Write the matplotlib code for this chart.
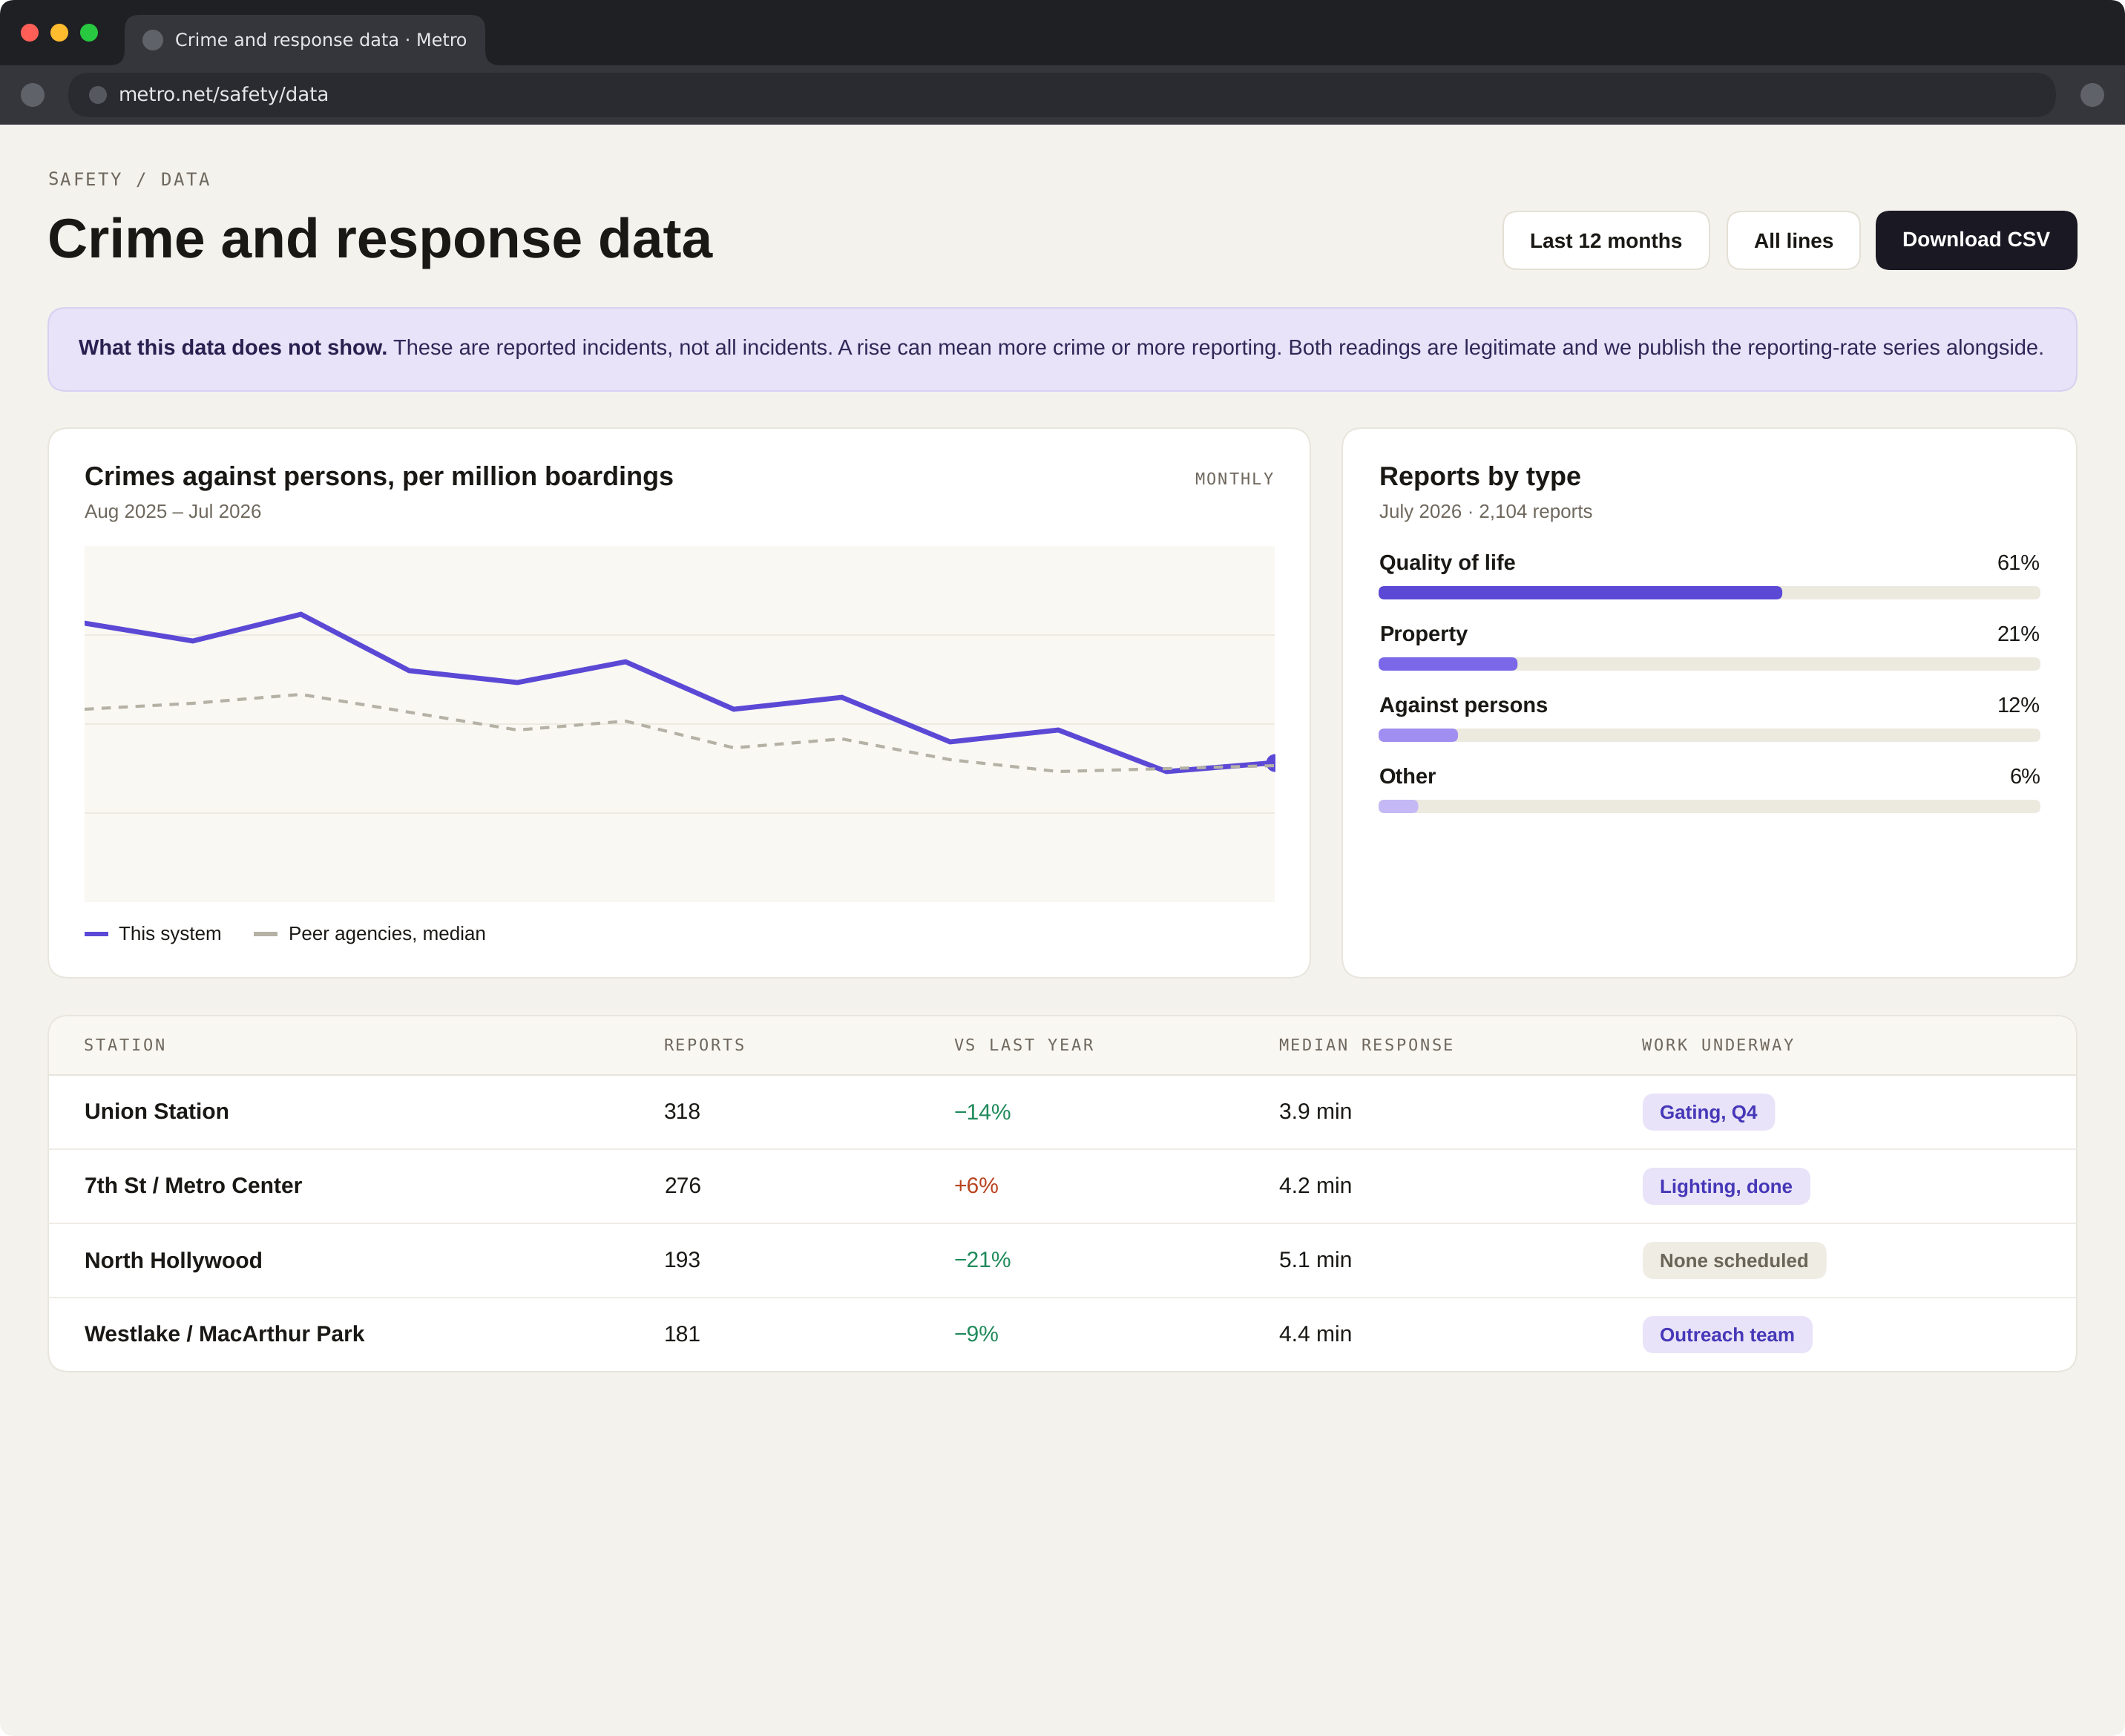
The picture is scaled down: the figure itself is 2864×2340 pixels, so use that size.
import matplotlib
matplotlib.use("Agg")
import matplotlib.pyplot as plt
from matplotlib.patches import FancyBboxPatch, Circle, Rectangle, PathPatch
from matplotlib.path import Path
from matplotlib.text import Text

plt.rcParams["text.hinting"] = "no_hinting"
plt.rcParams["text.hinting_factor"] = 1

# page is laid out in device pixels, y going down
W, H = 2864, 2340
SANS = "Liberation Sans"
MONO = "DejaVu Sans Mono"
UI = "DejaVu Sans"

months = ["Aug", "Sep", "Oct", "Nov", "Dec", "Jan", "Feb", "Mar", "Apr", "May", "Jun", "Jul"]
this_system = [188, 176, 194, 156, 148, 162, 130, 138, 108, 116, 88, 94]
peer_median = [130, 134, 140, 128, 116, 122, 104, 110, 96, 88, 90, 92]
grid_levels = [60, 120, 180]

report_types = ["Quality of life", "Property", "Against persons", "Other"]
report_shares = [61, 21, 12, 6]
report_colors = ["#5b49d6", "#7b68e8", "#a08ff0", "#c4b9f5"]

table_headers = ["STATION", "REPORTS", "VS LAST YEAR", "MEDIAN RESPONSE", "WORK UNDERWAY"]
stations = ["Union Station", "7th St / Metro Center", "North Hollywood", "Westlake / MacArthur Park"]
reports = [318, 276, 193, 181]
vs_last_year = ["\u221214%", "+6%", "\u221221%", "\u22129%"]
median_response = ["3.9 min", "4.2 min", "5.1 min", "4.4 min"]
work_underway = ["Gating, Q4", "Lighting, done", "None scheduled", "Outreach team"]

INK = "#1a1815"
MUTED = "#6f685e"
BORDER = "#e8e5dc"
PAGE = "#f3f2ed"
GREEN = "#1f8a5b"
RED = "#b8431f"
VIOLET_SOFT = "#e8e3f8"


class SpacedText(Text):
    """One string drawn with css-like letter spacing (mono labels only)."""

    def __init__(self, x, y, text, step, **kwargs):
        super().__init__(x, y, text, **kwargs)
        self.step = step

    def draw(self, renderer):
        if not self.get_visible():
            return
        px, py = self.get_transform().transform(self.get_position())
        py = renderer.height - py
        gc = renderer.new_gc()
        gc.set_foreground(self.get_color())
        gc.set_antialiased(True)
        for i, ch in enumerate(self.get_text()):
            if ch != " ":
                renderer.draw_text(gc, px + i * self.step, py, ch, self.get_fontproperties(), 0)
        gc.restore()
        self.stale = False


fig = plt.figure(figsize=(W / 100, H / 100), dpi=100, facecolor="#ffffff")
ax = fig.add_axes([0, 0, 1, 1])
ax.set_xlim(0, W)
ax.set_ylim(H, 0)
ax.axis("off")


def px(size):
    return size * 0.72


def box(x0, y0, x1, y1, r, fc, ec="none", lw=0, z=1):
    p = FancyBboxPatch((x0, y0), x1 - x0, y1 - y0, boxstyle=f"round,pad=0,rounding_size={r}",
                       fc=fc, ec=ec, lw=lw * 0.72, zorder=z)
    ax.add_patch(p)
    return p


def label(x, y, s, size, color=INK, weight="normal", family=SANS, ha="left", va="baseline", z=5):
    return ax.text(x, y, s, fontsize=px(size), color=color, fontweight=weight, family=family,
                   ha=ha, va=va, zorder=z)


def mono(x, y, s, color=MUTED, size=22, step=15.88, right=False):
    if right:
        x = x - len(s) * step
    t = SpacedText(x, y, s, step, fontsize=px(size), color=color, family=MONO, zorder=5)
    ax.add_artist(t)
    t.set_transform(ax.transData)
    return t


# window with rounded corners, browser chrome on top
window = box(0, 0, W, H, 20, PAGE, z=0.5)
for rect in [Rectangle((0, 0), W, 88, fc="#1f2024", ec="none", zorder=1),
             Rectangle((0, 88), W, 80, fc="#35363b", ec="none", zorder=1)]:
    ax.add_patch(rect)
    rect.set_clip_path(window)
for cx, col in zip([40, 80, 120], ["#ff5f57", "#febc2e", "#28c840"]):
    ax.add_patch(Circle((cx, 44), 12, fc=col, ec="none", zorder=2))
verts = [(148, 88), (168, 88), (168, 68), (168, 40), (168, 20), (188, 20), (634, 20), (654, 20),
         (654, 40), (654, 68), (654, 88), (674, 88), (148, 88)]
codes = [Path.MOVETO, Path.CURVE3, Path.CURVE3, Path.LINETO, Path.CURVE3, Path.CURVE3, Path.LINETO,
         Path.CURVE3, Path.CURVE3, Path.LINETO, Path.CURVE3, Path.CURVE3, Path.CLOSEPOLY]
ax.add_patch(PathPatch(Path(verts, codes), fc="#35363b", ec="none", zorder=2))
ax.add_patch(Circle((206, 54), 14, fc="#5f6268", ec="none", zorder=3))
label(236, 53, "Crime and response data \u00b7 Metro", 24, "#e6e7ea", family=UI, va="center_baseline")
ax.add_patch(Circle((44, 128), 16, fc="#5f6268", ec="none", zorder=3))
box(92, 98, 2771, 158, 30, "#2a2b30", z=2)
ax.add_patch(Circle((132, 128), 12, fc="#55585e", ec="none", zorder=3))
label(160, 127, "metro.net/safety/data", 26, "#e6e7ea", family=UI, va="center_baseline")
ax.add_patch(Circle((2820, 128), 16, fc="#5f6268", ec="none", zorder=3))

# heading
mono(64, 250, "SAFETY / DATA", size=24, step=16.95)
label(64, 346, "Crime and response data", 75, "#1a1815", "bold")

box(2026, 285, 2304, 363, 20, "#ffffff", "#e4e0d5", 2)
label(2165, 324, "Last 12 months", 28, INK, "bold", ha="center", va="center_baseline")
box(2328, 285, 2507, 363, 20, "#ffffff", "#e4e0d5", 2)
label(2417.5, 324, "All lines", 28, INK, "bold", ha="center", va="center_baseline")
box(2528, 284, 2800, 364, 20, "#1a1822")
label(2664, 322, "Download CSV", 28, "#ffffff", "bold", ha="center", va="center_baseline")

# notice banner, bold lead then regular text right after it
box(65, 415, 2799, 527, 24, VIOLET_SOFT, "#d6d0f2", 2)
lead = label(106, 478, "What this data does not show.", 29, "#2a2050", "bold")
fig.canvas.draw()
lead_end = lead.get_window_extent().x1
label(lead_end + 8, 478,
      "These are reported incidents, not all incidents. A rise can mean more crime or more reporting. "
      "Both readings are legitimate and we publish the reporting-rate series alongside.",
      29, "#2f2858")

# chart card
box(65, 577, 1766, 1318, 28, "#ffffff", BORDER, 2)
label(114, 653, "Crimes against persons, per million boardings", 36, INK, "bold")
label(114, 699, "Aug 2025 \u2013 Jul 2026", 26, MUTED)
mono(1718, 653, "MONTHLY", step=15.44, right=True)

plot = fig.add_axes([114 / W, 1 - 1216 / H, (1718 - 114) / W, 480 / H], facecolor="#f9f8f3")
plot.set_xlim(0, len(months) - 1)
plot.set_ylim(0, 240)
for s in plot.spines.values():
    s.set_visible(False)
plot.set_xticks([])
plot.set_yticks(grid_levels)
plot.set_yticklabels([])
plot.tick_params(length=0)
plot.grid(axis="y", color="#eeeae1", lw=1.44)
plot.set_axisbelow(True)
x = range(len(months))
plot.plot(x, this_system, color="#5b49d6", lw=4.9, solid_joinstyle="miter", zorder=2)
plot.plot(x[-1], this_system[-1], "o", color="#5b49d6", ms=17.28, mew=0, zorder=3)
plot.plot(x, peer_median, color="#b5b1a5", lw=3.0, dashes=(3.0, 2.5), zorder=4)

ax.add_patch(Rectangle((114, 1256), 32, 6, fc="#5b49d6", ec="none", zorder=3))
label(160, 1268, "This system", 26, INK)
ax.add_patch(Rectangle((342, 1256), 32, 6, fc="#b5b1a5", ec="none", zorder=3))
label(389, 1268, "Peer agencies, median", 26, INK)

# reports by type card
box(1809, 577, 2799, 1318, 28, "#ffffff", BORDER, 2)
label(1859, 654, "Reports by type", 36, INK, "bold")
label(1859, 699, "July 2026 \u00b7 2,104 reports", 26, MUTED)

TRACK_L, TRACK_R = 1858, 2750
bars_top, bars_bottom = 760, 1100
bars = fig.add_axes([TRACK_L / W, 1 - bars_bottom / H, (TRACK_R - TRACK_L) / W, (bars_bottom - bars_top) / H])
bars.set_xlim(0, 100)
bars.set_ylim(bars_bottom, bars_top)
bars.axis("off")
aspect = (TRACK_R - TRACK_L) / 100
for i, (name, share, col) in enumerate(zip(report_types, report_shares, report_colors)):
    top = 790 + i * 96
    bars.add_patch(FancyBboxPatch((0, top), 100, 18, boxstyle=f"round,pad=0,rounding_size={8 / aspect}",
                                  mutation_aspect=aspect, fc="#ece9df", ec="none", zorder=1))
    bars.add_patch(FancyBboxPatch((0, top), share, 18, boxstyle=f"round,pad=0,rounding_size={8 / aspect}",
                                  mutation_aspect=aspect, fc=col, ec="none", zorder=2))
    label(1859, top - 22, name, 29, INK, "bold")
    label(TRACK_R, top - 22, f"{share}%", 29, INK, ha="right")

# station table
box(65, 1369, 2799, 1849, 28, "#ffffff", BORDER, 2)
header_bg = box(66, 1370, 2798, 1500, 27, "#f9f7f2", z=1.5)
header_bg.set_clip_path(Rectangle((0, 0), W, 1449, transform=ax.transData))
ax.plot([66, 2798], [1449, 1449], color=BORDER, lw=1.44, zorder=2)
for row in range(1, len(stations)):
    y = 1449 + row * 100
    ax.plot([66, 2798], [y, y], color="#efece5", lw=1.44, zorder=2)

COLS = [114, 895, 1286, 1724, 2214]
for cx, head in zip(COLS, table_headers):
    mono(cx - 1, 1416, head)

for row in range(len(stations)):
    base = 1508.5 + row * 100
    label(COLS[0], base, stations[row], 30, INK, "bold")
    label(COLS[1], base, str(reports[row]), 30, INK)
    label(COLS[2], base, vs_last_year[row], 30, RED if vs_last_year[row].startswith("+") else GREEN)
    label(COLS[3], base, median_response[row], 30, INK)
    none_yet = work_underway[row].startswith("None")
    t = label(2237, base, work_underway[row], 26, "#6b6558" if none_yet else "#4638b8", "bold")
    fig.canvas.draw()
    right = t.get_window_extent().x1 + 24
    box(2214, 1474 + row * 100, right, 1524 + row * 100, 16, "#efece4" if none_yet else VIOLET_SOFT, z=3)

fig.savefig("out.png", dpi=100, facecolor="#ffffff")
